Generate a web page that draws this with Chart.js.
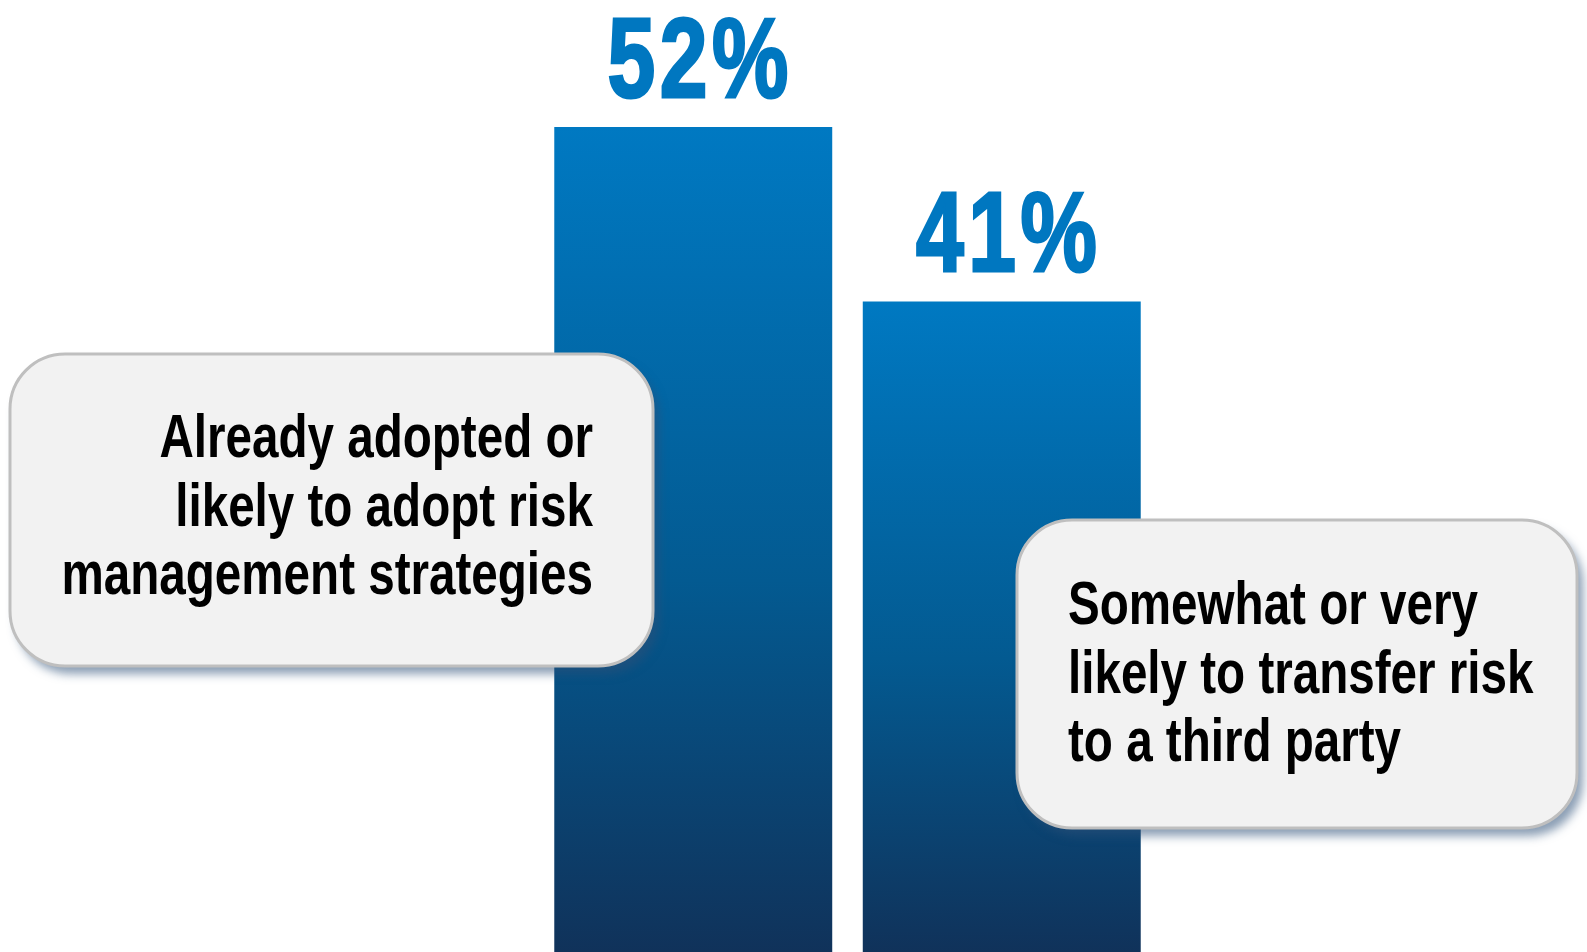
<!DOCTYPE html>
<html>
<head>
<meta charset="utf-8">
<script src="https://cdn.jsdelivr.net/npm/chart.js@4/dist/chart.umd.min.js"></script>
<style>
  html, body { margin: 0; padding: 0; background: #ffffff; overflow: hidden; }
  canvas { display: block; }
</style>
</head>
<body>
<canvas id="riskChart" width="1587" height="952"></canvas>
<script>
// survey results
const categories = ['Adopt risk management', 'Transfer risk'];
const values = [52, 41];
const valueLabels = ['52%', '41%'];
const boxLines = [
    ['Already adopted or', 'likely to adopt risk', 'management strategies'],
    ['Somewhat or very', 'likely to transfer risk', 'to a third party']
];

const FONT = '"Liberation Sans", Arial, sans-serif';

// condensed text: regular bold face squeezed horizontally
function condensedText(ctx, text, x, y, align, sx) {
    ctx.save();
    ctx.translate(x, y);
    ctx.scale(sx, 1);
    ctx.textAlign = align;
    ctx.fillText(text, 0, 0);
    ctx.restore();
}

function barGradient(context) {
    const chart = context.chart;
    if (!chart.chartArea) return '#0068a8';
    const y = chart.scales.y;
    const top = y.getPixelForValue(context.raw);
    const bottom = y.getPixelForValue(0);
    const g = chart.ctx.createLinearGradient(0, top, 0, bottom);
    g.addColorStop(0, '#0079c2');
    g.addColorStop(0.55, '#035a91');
    g.addColorStop(1, '#10325a');
    return g;
}

const valueLabelPlugin = {
    id: 'valueLabels',
    afterDatasetsDraw(chart) {
        const ctx = chart.ctx;
        const meta = chart.getDatasetMeta(0);
        ctx.save();
        ctx.fillStyle = '#0077c0';
        ctx.strokeStyle = '#0077c0';
        ctx.lineWidth = 3;
        ctx.font = 'bold 113px ' + FONT;
        ctx.letterSpacing = '6px';
        ctx.textBaseline = 'alphabetic';
        meta.data.forEach((bar, i) => {
            ctx.save();
            ctx.translate(bar.x + 7, bar.y - 30);
            ctx.scale(0.76, 1);
            ctx.textAlign = 'center';
            ctx.fillText(valueLabels[i], 0, 0);
            ctx.strokeText(valueLabels[i], 0, 0);
            ctx.restore();
        });
        ctx.restore();
    }
};

const calloutPlugin = {
    id: 'callouts',
    afterDraw(chart) {
        const ctx = chart.ctx;
        const boxes = [
            { x: 10, y: 354, w: 643, h: 312, align: 'right', tx: 593, ty: 457 },
            { x: 1017, y: 520, w: 560, h: 308, align: 'left', tx: 1068, ty: 624 }
        ];
        boxes.forEach((b, i) => {
            ctx.save();
            ctx.shadowColor = 'rgba(45, 80, 120, 0.55)';
            ctx.shadowBlur = 10;
            ctx.shadowOffsetX = 6;
            ctx.shadowOffsetY = 8;
            ctx.beginPath();
            ctx.roundRect(b.x, b.y, b.w, b.h, 55);
            ctx.fillStyle = '#f2f2f2';
            ctx.fill();
            ctx.restore();

            ctx.save();
            ctx.beginPath();
            ctx.roundRect(b.x, b.y, b.w, b.h, 55);
            ctx.lineWidth = 3;
            ctx.strokeStyle = '#bfbfbf';
            ctx.stroke();

            ctx.fillStyle = '#000000';
            ctx.font = 'bold 61px ' + FONT;
            ctx.textBaseline = 'alphabetic';
            boxLines[i].forEach((line, j) => {
                condensedText(ctx, line, b.tx, b.ty + j * 68.5, b.align, 0.78);
            });
            ctx.restore();
        });
    }
};

new Chart(document.getElementById('riskChart').getContext('2d'), {
    type: 'bar',
    data: {
        labels: categories,
        datasets: [{
            data: values,
            backgroundColor: barGradient,
            borderWidth: 0,
            barPercentage: 1,
            categoryPercentage: 0.901
        }]
    },
    options: {
        responsive: false,
        animation: false,
        layout: { padding: { left: 539, right: 431, top: 0, bottom: 0 } },
        plugins: {
            legend: { display: false },
            tooltip: { enabled: false }
        },
        scales: {
            x: { display: false },
            y: { display: false, min: 0, max: 60 }
        }
    },
    plugins: [valueLabelPlugin, calloutPlugin]
});
</script>
</body>
</html>
